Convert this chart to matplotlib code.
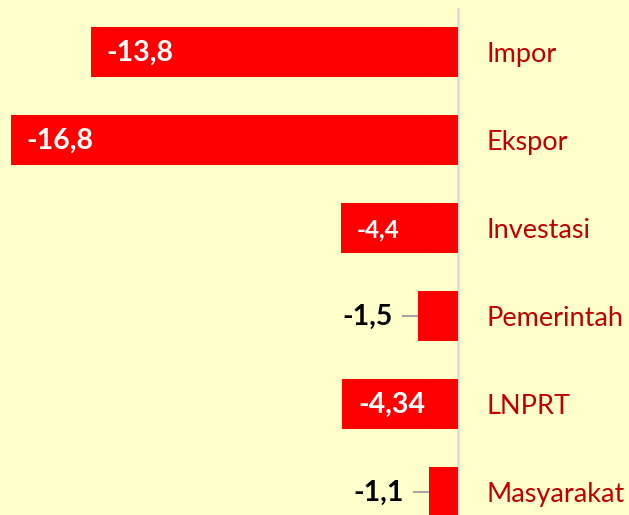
import matplotlib.pyplot as plt

plt.rcParams['font.family'] = ['Lato', 'DejaVu Sans']

# data
kategori = ["Impor", "Ekspor", "Investasi", "Pemerintah", "LNPRT", "Masyarakat"]
nilai = [-13.8, -16.8, -4.4, -1.5, -4.34, -1.1]
label_nilai = ["-13,8", "-16,8", "-4,4", "-1,5", "-4,34", "-1,1"]

bg = '#FFFFCC'
fig = plt.figure(figsize=(6.29, 5.15), dpi=100, facecolor=bg)
ax = fig.add_axes([0, 0, 1, 1])
ax.set_facecolor(bg)

posisi = list(range(len(kategori)))
ax.barh(posisi, nilai, height=0.57, color='#FF0000', zorder=2)

ax.set_xlim(-17.2, 6.42)
ax.set_ylim(5.26, -0.59)
ax.axis('off')

# px -> data units
px = 1 / 26.62
py = 1 / 88

# garis sumbu nol
ax.plot([0, 0], [-0.49, 5.5], color='#D9D9D9', lw=1.8, zorder=1)

for i, (v, lab, kat) in enumerate(zip(nilai, label_nilai, kategori)):
    ax.text(28 * px, i + 10 * py, kat, ha='left', va='baseline',
            color='#C00000', fontsize=19.5)
    if abs(v) > 3:
        fs = 17.5 if lab == "-4,4" else 20.5
        ax.text(v + 16 * px, i + 9 * py, lab, ha='left', va='baseline',
                color='white', fontweight='bold', fontsize=fs, zorder=3)
    else:
        # label di luar batang dengan garis penunjuk
        ax.plot([v - 15 * px, v], [i, i], color='#A6A6A6', lw=1.5, zorder=1)
        ax.text(v - 25 * px, i + 9 * py, lab, ha='right', va='baseline',
                color='black', fontweight='bold', fontsize=20.5)

fig.savefig('out.png', dpi=100, facecolor=bg)
